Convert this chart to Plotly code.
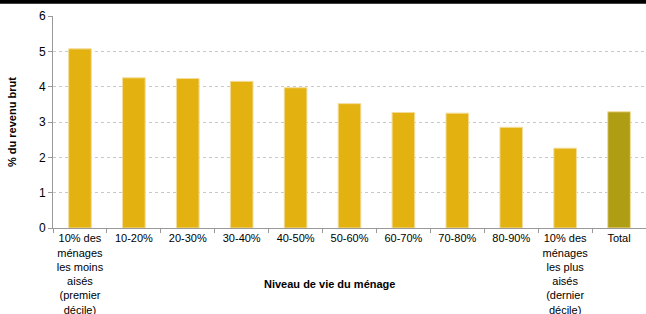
import plotly.graph_objects as go

categories = [
    "10% des<br>ménages<br>les moins<br>aisés<br>(premier<br>décile)",
    "10-20%", "20-30%", "30-40%", "40-50%", "50-60%", "60-70%", "70-80%", "80-90%",
    "10% des<br>ménages<br>les plus<br>aisés<br>(dernier<br>décile)",
    "Total",
]
values = [5.07, 4.25, 4.23, 4.15, 3.97, 3.52, 3.27, 3.25, 2.85, 2.26, 3.29]
colors = ["#E3B210"] * 10 + ["#AF9E14"]
y_ticks = [0, 1, 2, 3, 4, 5, 6]
y_title = "% du revenu brut"
x_title = "Niveau de vie du ménage"

W, H = 646, 314
ml, mr, mt, mb = 53, 0, 16, 86
pw, ph = W - ml - mr, H - mt - mb

fig = go.Figure(go.Bar(
    x=categories, y=values,
    marker=dict(color=colors, line=dict(color="#F3DC9A", width=1)),
    width=0.42,
))

font = "Liberation Sans, Arial, sans-serif"
fig.update_layout(
    width=W, height=H,
    margin=dict(l=ml, r=mr, t=mt, b=mb, autoexpand=False),
    plot_bgcolor="white", paper_bgcolor="white",
    showlegend=False,
    font=dict(family=font, size=11, color="#000"),
    shapes=[dict(type="rect", xref="paper", yref="paper",
                 x0=-ml / pw, x1=1, y0=1 + 12.3 / ph, y1=1 + 16 / ph,
                 fillcolor="black", line=dict(width=0), layer="above")],
    annotations=[
        dict(text="<b>" + y_title + "</b>", xref="paper", yref="paper",
             x=-(ml - 12) / pw, y=0.5, textangle=-90, showarrow=False,
             font=dict(size=11, family=font), xanchor="center", yanchor="middle"),
        dict(text="<b>" + x_title + "</b>", xref="paper", yref="paper",
             x=(329 - ml) / pw, y=-(284 - (mt + ph)) / ph, showarrow=False,
             font=dict(size=11, family=font), xanchor="center", yanchor="middle"),
    ],
)
fig.update_xaxes(
    showline=True, linecolor="#999", linewidth=1,
    ticks="outside", tickson="boundaries", ticklen=4, tickcolor="#999",
    tickangle=0,
    tickfont=dict(size=11, family=font), showgrid=False,
)
fig.update_yaxes(
    range=[0, 6], tickvals=y_ticks, showline=True, linecolor="#999", linewidth=1,
    ticks="outside", ticklen=4, tickcolor="#999",
    tickfont=dict(size=12, family=font),
    showgrid=True, gridcolor="#C8C8C8", griddash="dot", gridwidth=1,
    zeroline=False,
)
fig.write_html("out.html", config={"displayModeBar": False},
               post_script="document.body.style.margin='0';document.body.style.padding='0';")
